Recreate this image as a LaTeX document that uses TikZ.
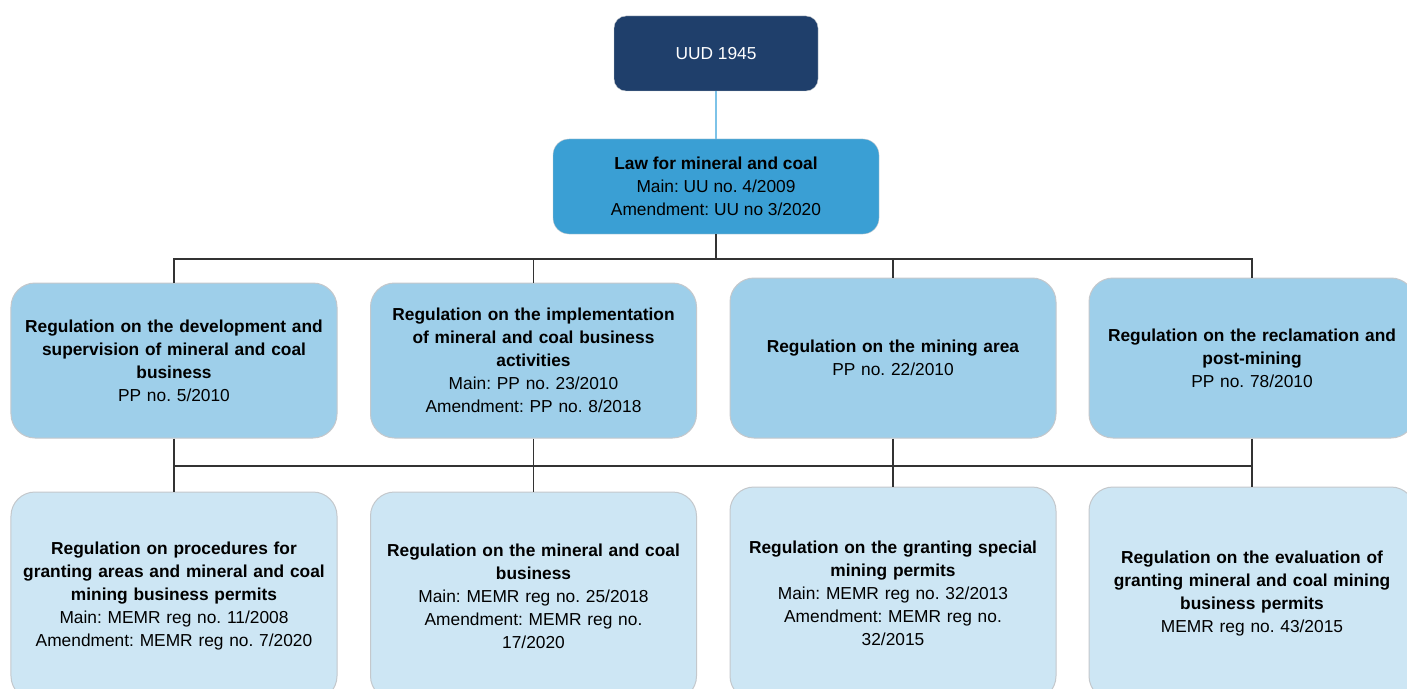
\documentclass[tikz,border=0pt]{standalone}
\usepackage{fontspec}
\setmainfont{Liberation Sans}
\usetikzlibrary{calc}
\definecolor{navy}{HTML}{1F3F6B}
\definecolor{lawblue}{HTML}{3A9FD4}
\definecolor{ppblue}{HTML}{9ECFEA}
\definecolor{regblue}{HTML}{CDE6F4}
\definecolor{boxline}{HTML}{C4C8CC}
\definecolor{uudline}{HTML}{7DC3E8}
\definecolor{busline}{HTML}{333333}
\frenchspacing

\begin{document}
\begin{tikzpicture}[x=1bp,y=-1bp,
    every node/.style={font=\fontsize{17.4}{23}\selectfont},
    regbox/.style={draw=boxline, line width=1bp, rounded corners=24bp, align=center,
        minimum width=326bp, text width=322bp, inner sep=2bp},
    ppbox/.style={regbox, fill=ppblue},
    membox/.style={regbox, fill=regblue},
    busl/.style={draw=busline, line width=1.2bp}]
    \clip (0,0) rectangle (1407,689);
    \fill[white] (0,0) rectangle (1407,689);

    % top of the tree
    \node[draw=boxline, fill=navy, text=white, rounded corners=12bp,
        minimum width=204bp, minimum height=75bp] (uud) at (716,53.5) {UUD 1945};
    \node[draw=boxline, fill=lawblue, rounded corners=16bp, align=center,
        minimum width=326bp, minimum height=95bp] (law) at (716,186.5)
        {\textbf{Law for mineral and coal}\\Main: UU no. 4/2009\\Amendment: UU no 3/2020};

    % government regulations
    \node[ppbox, minimum height=155bp] (dev) at (174,360.5)
        {\textbf{Regulation on the development and}\\\textbf{supervision of mineral and coal}\\\textbf{business}\\PP no. 5/2010};
    \node[ppbox, minimum height=155bp] (impl) at (533.5,360.5)
        {\textbf{Regulation on the implementation}\\\textbf{of mineral and coal business}\\\textbf{activities}\\Main: PP no. 23/2010\\Amendment: PP no. 8/2018};
    \node[ppbox, minimum height=160bp] (area) at (893,358)
        {\textbf{Regulation on the mining area}\\PP no. 22/2010};
    \node[ppbox, minimum height=160bp] (recl) at (1252,358)
        {\textbf{Regulation on the reclamation and}\\\textbf{post-mining}\\PP no. 78/2010};

    % ministerial regulations
    \node[membox, minimum height=208bp] (proc) at (174,596)
        {\textbf{Regulation on procedures for}\\\textbf{granting areas and mineral and coal}\\\textbf{mining business permits}\\Main: MEMR reg no. 11/2008\\Amendment: MEMR reg no. 7/2020};
    \node[membox, minimum height=208bp] (busi) at (533.5,596)
        {\textbf{Regulation on the mineral and coal}\\\textbf{business}\\Main: MEMR reg no. 25/2018\\Amendment: MEMR reg no.\\17/2020};
    \node[membox, minimum height=213bp] (spec) at (893,593.5)
        {\textbf{Regulation on the granting special}\\\textbf{mining permits}\\Main: MEMR reg no. 32/2013\\Amendment: MEMR reg no.\\32/2015};
    \node[membox, minimum height=213bp] (eval) at (1252,593.5)
        {\textbf{Regulation on the evaluation of}\\\textbf{granting mineral and coal mining}\\\textbf{business permits}\\MEMR reg no. 43/2015};

    \coordinate (top) at (716,259);
    \coordinate (mid) at (716,466);

    % connectors
    \draw[draw=uudline, line width=1.2bp] (uud.south) -- (law.north);
    \draw[busl, line width=2bp] (law.south) -- (top);
    \draw[busl] (dev.north) |- (recl.north |- top) -- (recl.north);
    \foreach \n in {impl,area}
        \draw[busl] (\n.north) -- (\n.north |- top);
    \foreach \a/\b in {dev/proc,impl/busi,area/spec,recl/eval}
        \draw[busl] (\a.south) -- (\b.north);
    \draw[busl] (dev.south |- mid) -- (recl.south |- mid);
\end{tikzpicture}
\end{document}
